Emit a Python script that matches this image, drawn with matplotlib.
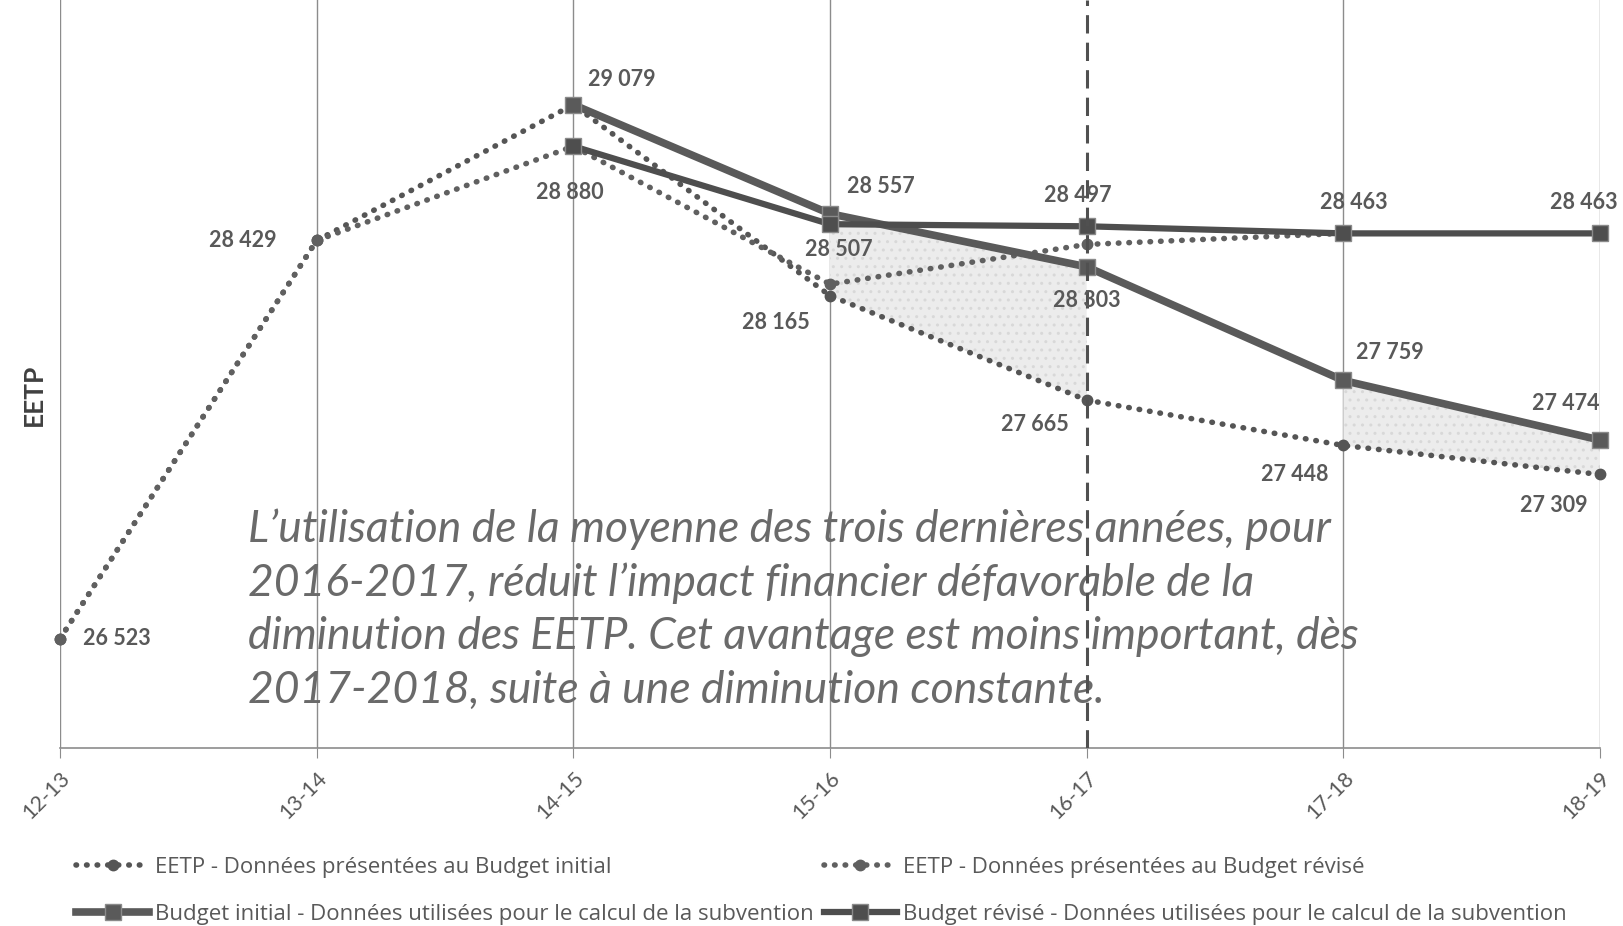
import matplotlib.pyplot as plt
import numpy as np

plt.rcParams['font.family'] = ['Lato', 'DejaVu Sans']

years = ['12-13', '13-14', '14-15', '15-16', '16-17', '17-18', '18-19']
eetp_initial = [26523, 28429, 29079, 28165, 27665, 27448, 27309]
eetp_revise = [26523, 28429, 28880, 28220, 28410, 28463, np.nan]
budget_initial = [np.nan, np.nan, 29079, 28557, 28303, 27759, 27474]
budget_revise = [np.nan, np.nan, 28880, 28507, 28497, 28463, 28463]

note = ("L\u2019utilisation de la moyenne des trois dernières années, pour\n"
        "2016-2017, réduit l\u2019impact financier défavorable de la\n"
        "diminution des EETP. Cet avantage est moins important, dès\n"
        "2017-2018, suite à une diminution constante.")

# (x index, value, dx px, dy px, ha)
labels = [
    (0, 26523, 23, 0, 'left'),
    (1, 28429, -40, 0, 'right'),
    (2, 29079, 15, 25, 'left'),
    (2, 28880, -4, -46, 'center'),
    (3, 28557, 17, 27, 'left'),
    (3, 28507, 9, -25, 'center'),
    (3, 28165, -20, -27, 'right'),
    (4, 28497, -9, 31, 'center'),
    (4, 28303, 0, -34, 'center'),
    (4, 27665, -18, -24, 'right'),
    (5, 28463, 10, 31, 'center'),
    (6, 28463, -16, 31, 'center'),
    (5, 27759, 13, 28, 'left'),
    (6, 27474, 0, 37, 'right'),
    (5, 27448, -15, -29, 'right'),
    (6, 27309, -12, -31, 'right'),
]

grey = '#595959'
x = np.arange(len(years))

fig = plt.figure(figsize=(16.23, 9.26), dpi=100)
ax = fig.add_axes([60 / 1623, 1 - 748 / 926, 1540 / 1623, 748 / 926])
ax.set_xlim(0, 6)
ax.set_ylim(26000, 29580)

for xi in x:
    if xi == 4:
        continue
    ax.axvline(xi, color='#8c8c8c', lw=1, zorder=1)
ax.axvline(4, color='#505050', lw=2.2, linestyle=(0, (6, 3)), zorder=6)

hatch_kw = dict(facecolor='#ececec', edgecolor='#d8d8d8', hatch='..', lw=0, zorder=1.5)
ax.fill_between(x[3:5], np.array(budget_initial[3:5]), np.array(eetp_initial[3:5]), **hatch_kw)
ax.fill_between(x[5:7], np.array(budget_initial[5:7]), np.array(eetp_initial[5:7]), **hatch_kw)

# note text, last baseline at ~703 px from top
ax.text(188 / 256.67, 28429 - (703 - 240) * 4.777, note,
        fontsize=32, style='italic', color='#6a6a6a', va='baseline', ha='left',
        linespacing=1.37, zorder=2)

dot_style = dict(lw=4.0, linestyle=(0, (0.1, 1.8)), dash_capstyle='round',
                 marker='o', markersize=7.5, zorder=4, clip_on=False)
h1, = ax.plot(x, eetp_initial, color='#555555', **dot_style)
h2, = ax.plot(x, eetp_revise, color='#606060', **dot_style)
h3, = ax.plot(x, budget_initial, color='#5a5a5a', lw=5.5, marker='s', markersize=11,
              markeredgecolor='#8a8a8a', zorder=5, clip_on=False)
h4, = ax.plot(x, budget_revise, color='#4e4e4e', lw=4.5, marker='s', markersize=11,
              markeredgecolor='#8a8a8a', zorder=5, clip_on=False)

for xi, v, dx, dy, ha in labels:
    ax.annotate(f'{v:,}'.replace(',', ' '), (xi, v), xytext=(dx * 0.72, dy * 0.72),
                textcoords='offset points', ha=ha, va='center', fontsize=15.5,
                fontweight='bold', color=grey, zorder=7)

ax.set_xticks(x)
ax.set_xticklabels(years, rotation=45, ha='right', rotation_mode='anchor',
                   fontsize=15.5, color=grey)
ax.tick_params(axis='x', length=7, color='#8c8c8c', pad=7)
ax.set_yticks([])
for s in ['top', 'right', 'left']:
    ax.spines[s].set_visible(False)
ax.spines['bottom'].set_color('#8c8c8c')
ax.spines['bottom'].set_linewidth(1.2)

fig.text(34 / 1623, 1 - 395 / 926, 'EETP', rotation=90, fontsize=19,
         fontweight='bold', color='#404040', ha='center', va='center')

fig.legend([h1, h3, h2, h4],
           ['EETP - Données présentées au Budget initial',
            'Budget initial - Données utilisées pour le calcul de la subvention',
            'EETP - Données présentées au Budget révisé',
            'Budget révisé - Données utilisées pour le calcul de la subvention'],
           ncol=2, loc='upper left', bbox_to_anchor=(76 / 1623, 1 - 857 / 926),
           frameon=False, prop={'family': 'Open Sans', 'size': 16},
           labelcolor=grey, handlelength=3.3, handletextpad=0.25,
           columnspacing=0.45, labelspacing=1.15, borderaxespad=0, borderpad=0)

fig.savefig('out.png', dpi=100)
